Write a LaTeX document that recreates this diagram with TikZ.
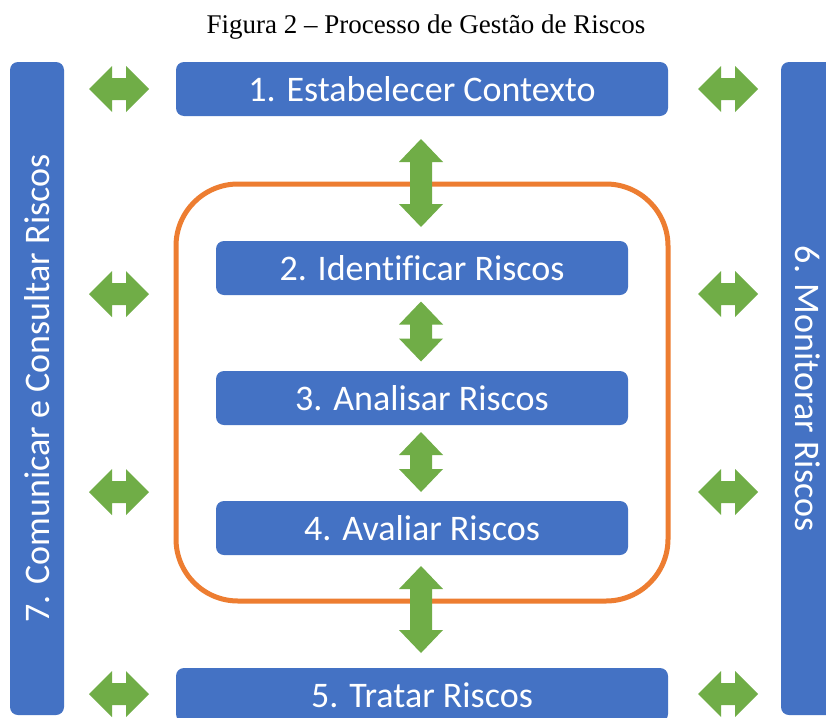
\documentclass[tikz,border=0pt]{standalone}
\usepackage{fontspec}
\setmainfont[Ligatures=NoCommon]{Carlito}
\newfontfamily\titlefont{Liberation Serif}
\definecolor{boxblue}{HTML}{4472C4}
\definecolor{arrowgreen}{HTML}{70AD47}
\definecolor{frameorange}{HTML}{ED7D31}
\tikzset{
  bluebox/.style={fill=boxblue, rounded corners=8pt, inner sep=0pt, text=white,
    font=\fontsize{36}{40}\selectfont},
  pics/dblv/.style={code={
    \pgfmathsetmacro{\hh}{#1/2}
    \pgfmathsetmacro{\hk}{#1/2-23}
    \fill[arrowgreen] (0,-\hh) -- (22,-\hk) -- (11,-\hk) -- (11,\hk) -- (22,\hk)
      -- (0,\hh) -- (-22,\hk) -- (-11,\hk) -- (-11,-\hk) -- (-22,-\hk) -- cycle;
  }},
  pics/dblh/.style={code={
    \fill[arrowgreen] (-30,0) -- (-7,-23) -- (-7,-11) -- (7,-11) -- (7,-23)
      -- (30,0) -- (7,23) -- (7,11) -- (-7,11) -- (-7,23) -- cycle;
  }}
}
\begin{document}
\begin{tikzpicture}[x=1pt,y=-1pt]
\useasboundingbox (0,0) rectangle (826,717);
\fill[white] (0,0) rectangle (826,717);
% title
\node[font=\titlefont\fontsize{27}{30}\selectfont, inner sep=0pt] (title) at (426,27) {Figura 2 – Processo de Gestão de Riscos};
% side bars
\node[bluebox, rotate=90, minimum width=653pt, minimum height=54pt] (left) at (37,388.5) {7. Comunicar e Consultar Riscos};
\node[bluebox, rotate=-90, minimum width=653pt, minimum height=54pt] (right) at (808,388.5) {6. Monitorar Riscos};
% orange frame
\node[draw=frameorange, line width=5pt, rounded corners=62pt, minimum width=492pt, minimum height=417pt, inner sep=0pt] (frame) at (422,392.5) {};
% boxes
\node[bluebox, minimum width=492pt, minimum height=54pt] (b1) at (422,89) {1. Estabelecer Contexto};
\node[bluebox, minimum width=412pt, minimum height=54pt] (b2) at (422,268) {2. Identificar Riscos};
\node[bluebox, minimum width=412pt, minimum height=54pt] (b3) at (422,398) {3. Analisar Riscos};
\node[bluebox, minimum width=412pt, minimum height=54pt] (b4) at (422,528) {4. Avaliar Riscos};
\node[bluebox, minimum width=492pt, minimum height=54pt] (b5) at (422,695) {5. Tratar Riscos};
% vertical arrows
\pic at (421,183) {dblv=88};
\pic at (421,331.5) {dblv=60};
\pic at (421,462) {dblv=60};
\pic at (421,609.5) {dblv=87};
% horizontal arrows
\foreach \yy in {89,294,492,694} {
  \pic at (119,\yy) {dblh};
  \pic at (728,\yy) {dblh};
}
\end{tikzpicture}
\end{document}
